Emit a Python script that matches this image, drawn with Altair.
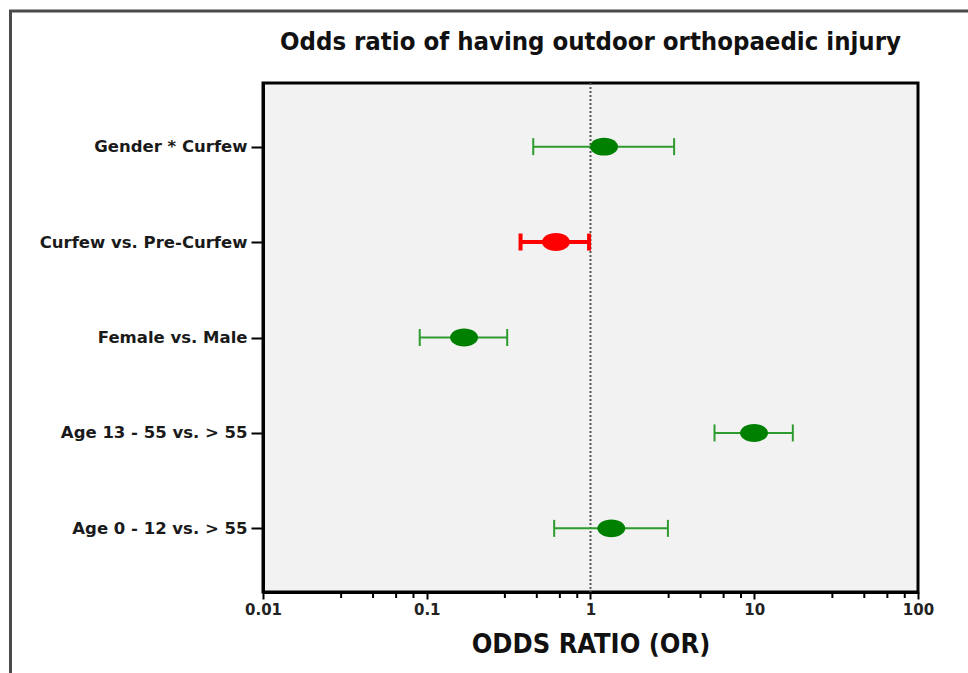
import altair as alt
import pandas as pd

# ---- data ----
categories = [
    "Gender * Curfew",
    "Curfew vs. Pre-Curfew",
    "Female vs. Male",
    "Age 13 - 55 vs. > 55",
    "Age 0 - 12 vs. > 55",
]
odds_ratio = [1.21, 0.615, 0.169, 9.97, 1.34]
ci_lower = [0.447, 0.374, 0.0906, 5.72, 0.60]
ci_upper = [3.24, 0.98, 0.31, 17.2, 2.97]
highlight = [False, True, False, False, False]

major_ticks = [0.01, 0.1, 1, 10, 100]
decades = [0.01, 0.1, 1, 10]
minor_multipliers = [3, 4.7, 6.5, 8.3]
reference_line = [1]

df = pd.DataFrame({
    "category": categories,
    "or": odds_ratio,
    "lower": ci_lower,
    "upper": ci_upper,
    "highlight": highlight,
})
minor_df = pd.DataFrame({"v": [d * m for d in decades for m in minor_multipliers]})
ref_df = pd.DataFrame({"v": reference_line})
frame_df = pd.DataFrame({"k": [0]})

W, H = 655, 509
PAD_L, PAD_T = 263, 83

GREEN_PT = "#008000"
GREEN_BAR = "#2e9b2e"
RED = "#ff0000"

TITLE_FONT = "DejaVu Sans Condensed, Liberation Sans Narrow, DejaVu Sans, sans-serif"

xscale = alt.Scale(type="log", domain=[0.01, 100], nice=False)
yscale = alt.Scale(type="point", padding=0.667, domain=categories)

xenc_axis = alt.X(
    "or:Q",
    scale=xscale,
    title="ODDS RATIO (OR)",
    axis=alt.Axis(
        values=major_ticks,
        format="~g",
        labelFlush=False,
        labelFont="DejaVu Sans",
        labelFontWeight="bold",
        labelFontSize=15,
        labelColor="#222222",
        labelPadding=3,
        tickSize=7,
        tickWidth=2,
        tickColor="black",
        domainColor="black",
        domainWidth=3,
        titleFont=TITLE_FONT,
        titleFontSize=27,
        titleFontWeight="bold",
        titleColor="#111111",
        titlePadding=14,
    ),
)
yenc = alt.Y(
    "category:N",
    scale=yscale,
    sort=categories,
    title=None,
    axis=alt.Axis(
        labelFont="DejaVu Sans",
        labelFontWeight="bold",
        labelFontSize=16.5,
        labelColor="#1a1a1a",
        labelPadding=4,
        labelLimit=0,
        tickSize=12,
        tickWidth=2,
        tickColor="black",
        domainColor="black",
        domainWidth=3,
    ),
)

base = alt.Chart(df)

ref = alt.Chart(ref_df).mark_rule(
    color="#555555", strokeDash=[2, 2], strokeWidth=2
).encode(x=alt.X("v:Q", scale=xscale))

bars = base.mark_rule().encode(
    x=alt.X("lower:Q", scale=xscale),
    x2="upper:Q",
    y=yenc,
    color=alt.condition("datum.highlight", alt.value(RED), alt.value(GREEN_BAR)),
    strokeWidth=alt.condition("datum.highlight", alt.value(4), alt.value(2)),
)

caps_green = base.transform_filter("!datum.highlight").transform_fold(
    ["lower", "upper"], as_=["bound", "value"]
).mark_tick(orient="vertical", size=17, thickness=2, color=GREEN_BAR, opacity=1).encode(
    x=alt.X("value:Q", scale=xscale),
    y=alt.Y("category:N", scale=yscale, sort=categories),
)
caps_red = base.transform_filter("datum.highlight").transform_fold(
    ["lower", "upper"], as_=["bound", "value"]
).mark_tick(orient="vertical", size=17, thickness=4, color=RED, opacity=1).encode(
    x=alt.X("value:Q", scale=xscale),
    y=alt.Y("category:N", scale=yscale, sort=categories),
)

ellipse = ("M -1 0 C -1 -0.3535 -0.5523 -0.64 0 -0.64 "
           "C 0.5523 -0.64 1 -0.3535 1 0 "
           "C 1 0.3535 0.5523 0.64 0 0.64 "
           "C -0.5523 0.64 -1 0.3535 -1 0 Z")

points = base.mark_point(
    shape=ellipse, filled=True, size=784, opacity=1, strokeWidth=0
).encode(
    x=xenc_axis,
    y=alt.Y("category:N", scale=yscale, sort=categories),
    color=alt.condition("datum.highlight", alt.value(RED), alt.value(GREEN_PT)),
)

minor = alt.Chart(minor_df).mark_rule(color="black", strokeWidth=2).encode(
    x=alt.X("v:Q", scale=xscale),
    y=alt.value(H),
    y2=alt.value(H + 6),
)

frame_left = alt.Chart(frame_df).mark_rule(color="#4a4a4a", strokeWidth=3).encode(
    x=alt.value(10.5 - PAD_L), y=alt.value(10 - PAD_T), y2=alt.value(673 - PAD_T)
)
frame_top = alt.Chart(frame_df).mark_rule(color="#4a4a4a", strokeWidth=3).encode(
    x=alt.value(9 - PAD_L), x2=alt.value(968 - PAD_L), y=alt.value(11 - PAD_T)
)

chart = alt.layer(
    ref, bars, caps_green, caps_red, points, minor, frame_left, frame_top
).properties(
    width=W,
    height=H,
    title=alt.TitleParams(
        text="Odds ratio of having outdoor orthopaedic injury",
        font=TITLE_FONT,
        fontSize=25.5,
        fontWeight="bold",
        color="#111111",
        anchor="middle",
        frame="group",
        offset=0,
        dy=47,
    ),
    autosize=alt.AutoSizeParams(type="none"),
    padding={"left": PAD_L, "top": PAD_T, "right": 968 - PAD_L - W, "bottom": 673 - PAD_T - H},
    background="white",
).configure_axis(grid=False).configure_view(
    stroke="black", strokeWidth=3, fill="#f2f2f2"
)

chart.save("out.html", embed_options={"renderer": "svg", "actions": False})
